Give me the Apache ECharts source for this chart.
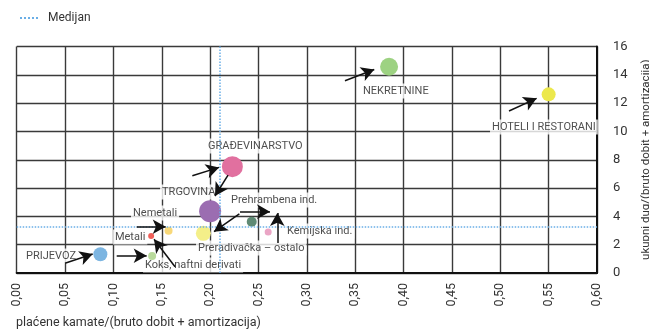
<!DOCTYPE html>
<html><head><meta charset="utf-8">
<script src="https://cdn.jsdelivr.net/npm/echarts@6/dist/echarts.min.js"></script>
<style>html,body{margin:0;padding:0;background:#fff}#c{width:649px;height:331px}</style>
</head><body><div id="c"></div>
<script>
// ---- data ----
const categories = ['NEKRETNINE','HOTELI I RESTORANI','GRAĐEVINARSTVO','TRGOVINA','Preradivačka – ostalo','Prehrambena ind.','Kemijska ind.','Nemetali','Metali','Koks, naftni derivati','PRIJEVOZ'];
const interestRatio = [0.385,0.550,0.223,0.200,0.193,0.243,0.260,0.157,0.139,0.140,0.0865];
const debtRatio = [14.57,12.62,7.51,4.36,2.80,3.62,2.90,2.99,2.61,1.20,1.32];
const weight = [18,14,21,22,15,10,7,8,6,8,14];
const medianX = 0.215;
const medianY = 3.27;
const xTicks = [0,0.05,0.10,0.15,0.20,0.25,0.30,0.35,0.40,0.45,0.50,0.55,0.60];
const yTicks = [0,2,4,6,8,10,12,14,16];
// annotation placement (data coords): label anchor, arrow tail, arrow head
const labelAt = [[0.356,12.85],[0.4894,10.31],[0.1957,8.97],[0.1482,5.72],[0.1854,1.77],[0.2195,5.16],[0.2774,2.97],[0.1182,4.24],[0.0995,2.54],[0.1306,0.565],[0.0076,1.20]];
const arrows = [
  [[0.3394,13.58],[0.3697,14.38]],
  [[0.509,11.44],[0.5376,12.34]],
  [[0.1816,6.87],[0.2092,7.46]],
  [[0.2185,6.92],[0.2050,5.44]],
  [[0.2309,4.33],[0.2619,4.33]],
  [[0.2694,2.12],[0.2694,4.24]],
  [[0.2302,4.17],[0.2040,2.92]],
  [[0.1241,3.27],[0.1541,3.27]],
  [[0.1637,0.445],[0.1420,2.38]],
  [[0.1034,1.22],[0.1344,1.22]],
  [[0.0499,0.685],[0.0786,1.34]]
];
// ---- style ----
const palette = ['#9dd282','#ece84c','#e1709f','#9b6db1','#f4ef89','#5f8a74','#eaa5c5','#f8d879','#f0605a','#b9da9c','#7cb5e1'];
const FONT = 'Roboto,"Liberation Sans",sans-serif';

const chart = echarts.init(document.getElementById('c'), null, {renderer:'canvas'});
chart.setOption({
  animation:false,
  textStyle:{fontFamily:FONT},
  legend:{left:14,top:7,itemWidth:20,itemHeight:8,itemGap:10,data:['Medijan'],
    itemStyle:{opacity:0},
    textStyle:{fontFamily:FONT,fontSize:12,color:'#333',padding:[0,0,0,3]}},
  grid:{left:16.7,right:52,top:46.5,bottom:58,containLabel:false,outerBoundsMode:'none'},
  xAxis:{type:'value',min:0,max:0.6,interval:0.05,
    axisLine:{show:true,onZero:false,lineStyle:{color:'#111',width:2}},
    axisTick:{show:false},
    splitLine:{show:true,lineStyle:{color:'#3a3a3a',width:1.4}},
    axisLabel:{rotate:90,margin:10,fontFamily:FONT,fontSize:12.5,color:'#333',
      formatter:v=>{const t=xTicks.find(k=>Math.abs(k-v)<1e-9);return (t!==undefined?t:v).toFixed(2).replace('.',',');}}},
  yAxis:{type:'value',position:'right',min:0,max:16,interval:2,
    axisLine:{show:true,onZero:false,lineStyle:{color:'#111',width:2}},
    axisTick:{show:false},
    splitLine:{show:true,lineStyle:{color:'#3a3a3a',width:1.4}},
    axisLabel:{margin:16,fontFamily:FONT,fontSize:13,color:'#333',formatter:v=>String(v)},
    name:'ukupni dug/(bruto dobit + amortizacija)',nameLocation:'middle',nameGap:43,nameRotate:90,
    nameTextStyle:{fontFamily:FONT,fontSize:11.5,color:'#333'}},
  graphic:[{type:'text',left:16,top:316,style:{text:'plaćene kamate/(bruto dobit + amortizacija)',font:'12.5px '+FONT,fill:'#333'}}],
  series:[
    {name:'Medijan',type:'line',data:[],showSymbol:false,symbol:'none',z:1,
      lineStyle:{type:'dotted',color:'#6aaee6',width:1.5},itemStyle:{color:'#6aaee6'},
      markLine:{silent:true,symbol:['none','none'],label:{show:false},
        lineStyle:{type:'dotted',color:'#6aaee6',width:1.5},
        data:[{xAxis:medianX},{yAxis:medianY}]}},
    {name:'labels',type:'scatter',z:2,symbolSize:0,silent:true,
      data:categories.map((c,i)=>({name:c,value:labelAt[i]})),
      label:{show:true,position:'right',distance:0,formatter:p=>p.name,fontFamily:FONT,fontSize:11,color:'#222',
        backgroundColor:'#fff',padding:[2,2,2,2]}},
    {name:'bubbles',type:'scatter',z:3,silent:true,
      data:categories.map((c,i)=>({name:c,value:[interestRatio[i],debtRatio[i],weight[i]],itemStyle:{color:palette[i],opacity:1}})),
      symbolSize:v=>v[2]},
    {name:'arrows',type:'scatter',z:4,data:[],silent:true,
      markLine:{silent:true,symbol:['none','arrow'],symbolSize:[11,13],label:{show:false},
        lineStyle:{type:'solid',color:'#111',width:1.5},
        data:arrows.map(a=>[{coord:a[0]},{coord:a[1]}])}}
  ]
});
</script></body></html>
